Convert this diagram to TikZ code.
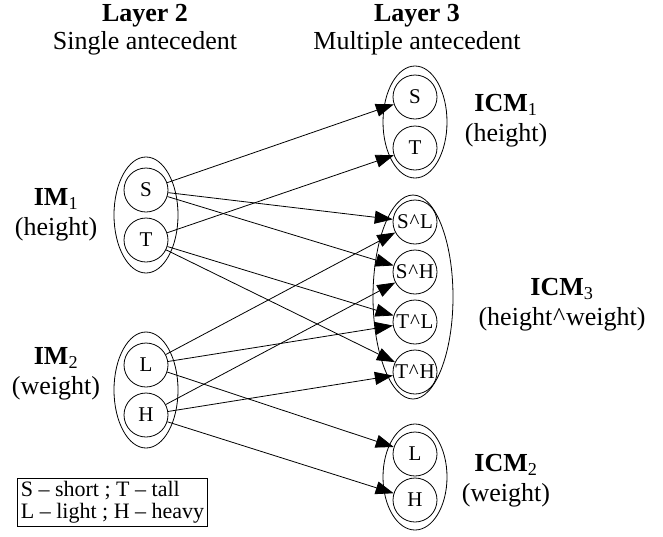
\documentclass[tikz,border=0pt]{standalone}
\usepackage{fontspec}
\setmainfont{Liberation Serif}
\usetikzlibrary{shapes.geometric,arrows.meta}
\newcommand{\crt}{\kern0.8pt\textasciicircum\kern0.8pt}
\begin{document}
\begin{tikzpicture}[x=1pt,y=-1pt,
  st/.style={draw, circle, minimum size=44pt, inner sep=0pt, font=\fontsize{21}{24}\selectfont, line width=0.8pt},
  grp/.style={draw, ellipse, inner sep=0pt, line width=0.8pt},
  lbl/.style={font=\fontsize{26}{30}\selectfont, align=center, inner sep=0pt},
  ttl/.style={font=\fontsize{26}{28}\selectfont, align=center, inner sep=0pt},
  arr/.style={-{Triangle[length=18pt,width=13pt]}, line width=0.8pt}]
\useasboundingbox (0,0) rectangle (663,536);
% titles
\node[ttl] (t2) at (145,30) {\textbf{Layer 2}\\Single antecedent};
\node[ttl] (t3) at (417,30) {\textbf{Layer 3}\\Multiple antecedent};
% groups
\node[grp, minimum width=64pt, minimum height=116pt] (g1) at (146,215) {};
\node[grp, minimum width=64pt, minimum height=116pt] (g2) at (146,390) {};
\node[grp, minimum width=64pt, minimum height=112pt] (g3) at (415,122) {};
\node[grp, minimum width=80pt, minimum height=204pt] (g4) at (413,297) {};
\node[grp, minimum width=64pt, minimum height=106pt] (g5) at (415,477) {};
% states
\node[st] (s1) at (146,190) {S};
\node[st] (t1) at (146,240) {T};
\node[st] (l1) at (146,365) {L};
\node[st] (h1) at (146,415) {H};
\node[st] (s3) at (415,97) {S};
\node[st] (t3s) at (415,148) {T};
\node[st] (sl) at (415,222) {S\crt L};
\node[st] (sh) at (415,272) {S\crt H};
\node[st] (tl) at (415,322) {T\crt L};
\node[st] (th) at (415,372) {T\crt H};
\node[st] (l3) at (415,454) {L};
\node[st] (h3) at (415,500) {H};
% labels
\node[lbl] (im1) at (56,215) {\textbf{IM}\textsubscript{1}\\(height)};
\node[lbl] (im2) at (56,374) {\textbf{IM}\textsubscript{2}\\(weight)};
\node[lbl] (icm1) at (506,121) {\textbf{ICM}\textsubscript{1}\\(height)};
\node[lbl] (icm3) at (562,305) {\textbf{ICM}\textsubscript{3}\\(height\crt weight)};
\node[lbl] (icm2) at (506,481) {\textbf{ICM}\textsubscript{2}\\(weight)};
% legend
\node[draw, line width=0.8pt, align=left, inner sep=3pt, font=\fontsize{22}{22}\selectfont] (leg) at (112.5,502) {S -- short ; T -- tall\\L -- light ; H -- heavy};
% edges
\draw[arr] (s1) -- (s3);
\draw[arr] (t1) -- (t3s);
\draw[arr] (s1) -- (sl);
\draw[arr] (s1) -- (sh);
\draw[arr] (t1) -- (tl);
\draw[arr] (t1) -- (th);
\draw[arr] (l1) -- (sl);
\draw[arr] (l1) -- (tl);
\draw[arr] (h1) -- (sh);
\draw[arr] (h1) -- (th);
\draw[arr] (l1) -- (l3);
\draw[arr] (h1) -- (h3);
\end{tikzpicture}
\end{document}
